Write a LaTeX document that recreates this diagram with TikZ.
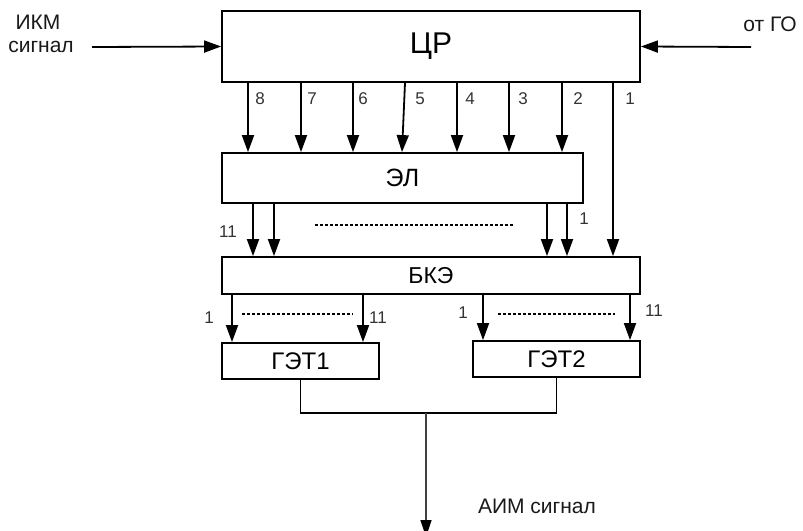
\documentclass[tikz,border=0pt]{standalone}
\usepackage{fontspec}
\setmainfont{Liberation Sans}
\usetikzlibrary{arrows.meta}
\begin{document}
\begin{tikzpicture}[x=1pt,y=-1pt,
  blk/.style={draw=black,line width=1.8pt,inner sep=0pt,anchor=center},
  arr/.style={line width=1.8pt,-{Triangle[length=17pt,width=12pt]}},
  oarr/.style={line width=1.3pt,draw=black!75,-{Triangle[length=17pt,width=11pt,color=black]}},
  lbl/.style={font=\fontsize{21}{24}\selectfont,inner sep=0pt,text=black!90},
  num/.style={font=\fontsize{17}{20}\selectfont,inner sep=0pt,text=black!80},
  dsh/.style={line width=1.1pt,dash pattern=on 3pt off 2pt}]
\useasboundingbox (0,0) rectangle (803,530);
\node[blk,minimum width=418pt,minimum height=71pt,font=\fontsize{30}{34}\selectfont] (cr) at (431,46.5) {ЦР};
\node[blk,minimum width=361pt,minimum height=50pt,font=\fontsize{25}{28}\selectfont] (el) at (402.5,178) {ЭЛ};
\node[blk,minimum width=418pt,minimum height=37pt,font=\fontsize{23}{26}\selectfont] (bke) at (431,275.5) {БКЭ};
\node[blk,minimum width=157pt,minimum height=36pt,font=\fontsize{24}{28}\selectfont] (g1) at (300.5,361) {ГЭТ1};
\node[blk,minimum width=167pt,minimum height=36pt,font=\fontsize{24}{28}\selectfont] (g2) at (556.5,359) {ГЭТ2};
% external texts
\node[lbl] (ikm) at (38,22) {ИКМ};
\node[lbl] (sig) at (41,47) {сигнал};
\node[lbl] (go) at (770,24) {от ГО};
\node[lbl] (aim) at (537,506) {АИМ сигнал};
\coordinate (inA) at (92,47);
\coordinate (inB) at (751,47);
\draw[arr] (inA) -- (cr.west);
\draw[arr] (inB) -- (cr.east);
% arrows from CR
\foreach \x in {248,301,353,457,509,562}{
  \draw[arr] (cr.south -| \x,0) -- (el.north -| \x,0);
}
\draw[arr] (cr.south -| 405,0) -- (el.north -| 402,0);
\draw[arr] (cr.south -| 613,0) -- (bke.north -| 613,0);
\foreach \t/\x in {8/260,7/312,6/363,5/420,4/470,3/523,2/578,1/630}{
  \node[num] at (\x,99) {\t};
}
% arrows EL -> BKE
\foreach \x in {253,274,547,567}{
  \draw[arr] (el.south -| \x,0) -- (bke.north -| \x,0);
}
\node[num] (n11a) at (228,232) {11};
\node[num] (n1a) at (584,219) {1};
\coordinate (d1a) at (315,225);
\coordinate (d1b) at (513,225);
\draw[dsh] (d1a) -- (d1b);
% arrows BKE -> GET
\foreach \x in {232,363}{
  \draw[arr] (bke.south -| \x,0) -- (g1.north -| \x,0);
}
\foreach \x in {483,630}{
  \draw[arr] (bke.south -| \x,0) -- (g2.north -| \x,0);
}
\node[num] at (209,318) {1};
\node[num] at (378,318) {11};
\node[num] at (463,313) {1};
\node[num] at (654,311) {11};
\coordinate (d2a) at (242,314);
\coordinate (d2b) at (353,314);
\coordinate (d3a) at (498,314);
\coordinate (d3b) at (615,314);
\draw[dsh] (d2a) -- (d2b);
\draw[dsh] (d3a) -- (d3b);
% output
\coordinate (m) at (426,413);
\coordinate (out) at (426,537);
\draw[line width=1.8pt] (g1.south) |- (m) -| (g2.south);
\draw[oarr] (m) -- (out);
\end{tikzpicture}
\end{document}
